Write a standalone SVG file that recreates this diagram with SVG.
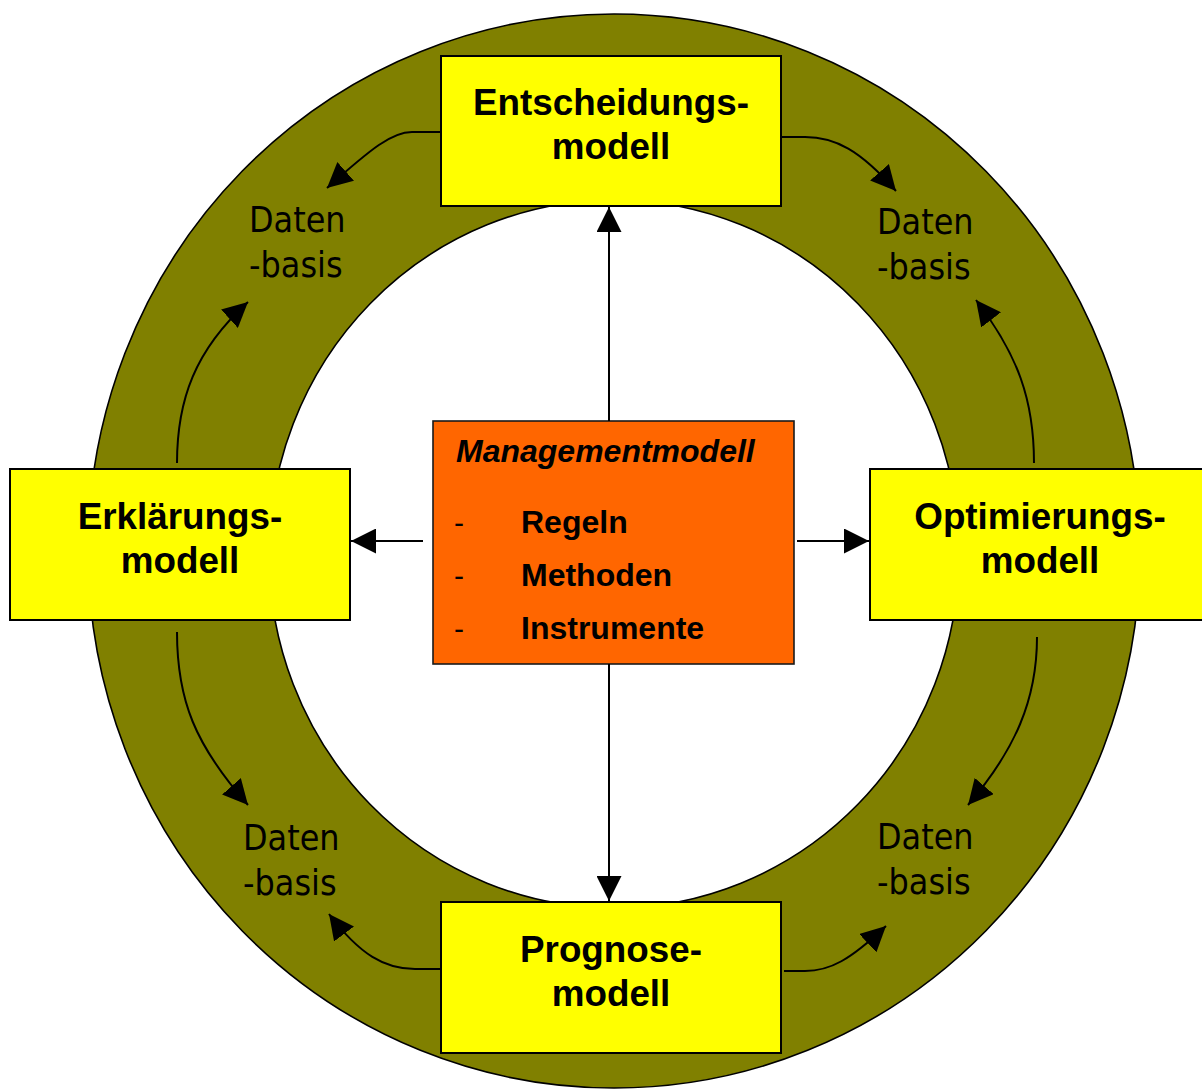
<svg xmlns="http://www.w3.org/2000/svg" width="1202" height="1091" viewBox="0 0 1202 1091">
<defs>
<style>
.ring{fill:#808000;stroke:#000;stroke-width:1.6;fill-rule:evenodd}
.box{fill:#ffff00;stroke:#000;stroke-width:2}
.mgmt{fill:#ff6600;stroke:#1a1a1a;stroke-width:1.6}
.lbl{font-family:"Liberation Sans",Arial,sans-serif;font-weight:bold;font-size:36.8px;fill:#000;text-anchor:middle}
.mt{font-family:"Liberation Sans",Arial,sans-serif;font-weight:bold;font-size:32px;fill:#000}
.dash{font-family:"Liberation Sans",Arial,sans-serif;font-size:30px;fill:#000}
.db{font-family:"DejaVu Sans Condensed","DejaVu Sans",sans-serif;font-stretch:condensed;font-size:35.5px;fill:#000}
.con path{fill:none;stroke:#000;stroke-width:2;marker-end:url(#ah)}
</style>
<marker id="ah" viewBox="0 0 10 10" refX="10" refY="5" markerWidth="25" markerHeight="25" markerUnits="userSpaceOnUse" orient="auto">
<path d="M0,0 L10,5 L0,10 z" fill="#000"/>
</marker>
</defs>
<rect width="1202" height="1091" fill="#fff"/>
<path class="ring" d="M88,551 A526,537 0 1 0 1140,551 A526,537 0 1 0 88,551 Z M269,554 A345,354 0 1 0 959,554 A345,354 0 1 0 269,554 Z"/>

<g id="entscheidungsmodell">
<rect class="box" x="441" y="56" width="340" height="150"/>
<text class="lbl" x="611" y="115">Entscheidungs-</text>
<text class="lbl" x="611" y="159">modell</text>
</g>
<g id="erklaerungsmodell">
<rect class="box" x="10" y="469" width="340" height="151"/>
<text class="lbl" x="180" y="529">Erklärungs-</text>
<text class="lbl" x="180" y="573">modell</text>
</g>
<g id="optimierungsmodell">
<rect class="box" x="870" y="469" width="340" height="151"/>
<text class="lbl" x="1040" y="529">Optimierungs-</text>
<text class="lbl" x="1040" y="573">modell</text>
</g>
<g id="prognosemodell">
<rect class="box" x="441" y="902" width="340" height="151"/>
<text class="lbl" x="611" y="962">Prognose-</text>
<text class="lbl" x="611" y="1006">modell</text>
</g>
<g id="managementmodell">
<rect class="mgmt" x="433" y="421" width="361" height="243"/>
<text class="mt" x="456" y="462" font-style="italic">Managementmodell</text>
<text class="dash" x="454" y="533">-</text>
<text class="mt" x="521" y="533">Regeln</text>
<text class="dash" x="454" y="586">-</text>
<text class="mt" x="521" y="586">Methoden</text>
<text class="dash" x="454" y="639">-</text>
<text class="mt" x="521" y="639">Instrumente</text>
</g>

<g id="datenbasis-tl"><text class="db" x="249" y="232">Daten</text><text class="db" x="249" y="277">-basis</text></g>
<g id="datenbasis-tr"><text class="db" x="877" y="234">Daten</text><text class="db" x="877" y="279">-basis</text></g>
<g id="datenbasis-bl"><text class="db" x="243" y="850">Daten</text><text class="db" x="243" y="895">-basis</text></g>
<g id="datenbasis-br"><text class="db" x="877" y="849">Daten</text><text class="db" x="877" y="894">-basis</text></g>

<g id="connectors" class="con">
<path d="M609,421 L609,207"/>
<path d="M609,664 L609,901"/>
<path d="M423,541 L351,541"/>
<path d="M797,541 L869,541"/>
<path d="M441,132 L412,132 C392,132 372,148 327,188"/>
<path d="M782,137 L805,137 C835,137 860,150 896,191"/>
<path d="M177,463 C177,400 195,350 248,302"/>
<path d="M1034,463 C1034,400 1018,355 976,300"/>
<path d="M177,632 C177,700 195,745 248,805"/>
<path d="M1037,637 C1037,700 1015,750 968,805"/>
<path d="M441,969 L415,969 C385,969 360,955 329,914"/>
<path d="M784,971 L805,971 C830,971 850,960 886,926"/>
</g>
</svg>
